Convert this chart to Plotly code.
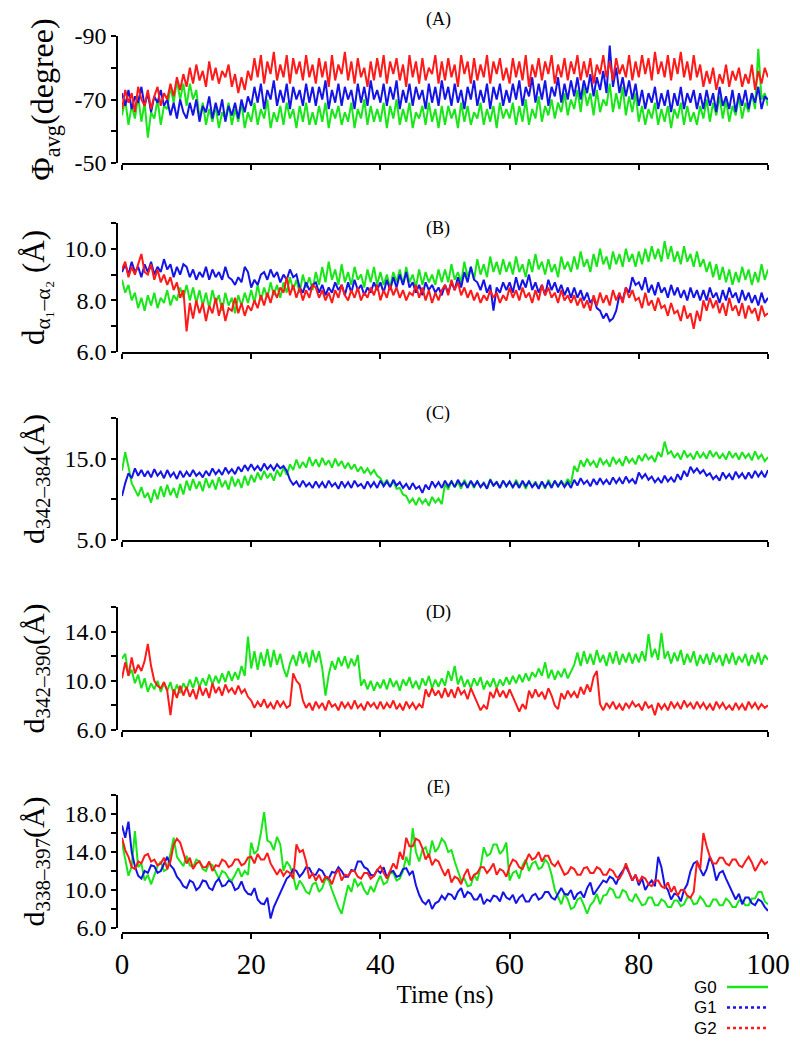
import plotly.graph_objects as go

# ---------------- data (time in ns, one reading every 0.5 ns) ----------------
time_ns = [i * 0.5 for i in range(201)]

# Panel A: phi_avg (degree)
A_G0 = [-65,-70,-62,-68,-64,-71,-63,-69,-58,-66, -64,-70,-62,-68,-67,-74,-69,-76,-70,-75,
        -68,-75,-70,-73,-64,-69,-62,-67,-63,-68, -61,-66,-64,-69,-62,-67,-63,-69,-61,-66,
        -63,-69,-62,-67,-64,-70,-61,-66,-63,-68, -62,-69,-64,-67,-61,-68,-63,-69,-62,-66,
        -62,-68,-63,-69,-61,-67,-64,-68,-62,-66, -63,-69,-61,-67,-64,-70,-62,-68,-63,-67,
        -63,-69,-61,-68,-64,-70,-62,-67,-63,-69, -61,-66,-64,-68,-62,-69,-63,-67,-61,-68,
        -62,-68,-64,-67,-61,-69,-63,-68,-62,-66, -64,-69,-62,-67,-63,-68,-61,-69,-64,-67,
        -64,-69,-62,-68,-63,-70,-62,-67,-64,-71, -63,-68,-65,-70,-64,-69,-66,-72,-65,-70,
        -67,-73,-66,-74,-68,-72,-65,-73,-66,-70, -68,-75,-66,-72,-67,-74,-65,-71,-66,-72,
        -63,-68,-62,-67,-64,-69,-62,-67,-63,-68, -61,-67,-64,-69,-62,-68,-63,-66,-62,-68,
        -64,-70,-63,-69,-65,-71,-64,-70,-63,-68, -65,-71,-64,-69,-66,-72,-67,-86,-70,-72,
        -68]
A_G1 = [-72,-68,-73,-67,-71,-69,-74,-68,-72,-66, -71,-69,-73,-68,-70,-65,-69,-64,-70,-66,
        -64,-69,-65,-70,-63,-68,-66,-71,-64,-69, -65,-70,-63,-68,-65,-69,-64,-70,-66,-71,
        -68,-74,-69,-75,-67,-73,-70,-76,-68,-73, -69,-75,-67,-74,-70,-73,-68,-75,-69,-74,
        -68,-74,-70,-76,-67,-73,-69,-75,-68,-74, -70,-73,-67,-75,-69,-74,-68,-76,-70,-73,
        -69,-75,-68,-74,-70,-76,-67,-73,-69,-75, -68,-74,-70,-73,-67,-75,-69,-74,-68,-76,
        -70,-74,-68,-75,-69,-73,-67,-74,-70,-76, -68,-73,-69,-75,-67,-74,-70,-75,-68,-73,
        -69,-75,-70,-76,-68,-74,-71,-77,-69,-75, -70,-76,-68,-74,-71,-77,-69,-75,-70,-76,
        -71,-77,-70,-76,-72,-78,-71,-77,-73,-79, -72,-87,-74,-80,-72,-77,-71,-76,-70,-75,
        -68,-73,-67,-72,-69,-74,-67,-72,-68,-73, -66,-72,-68,-74,-67,-72,-69,-73,-67,-72,
        -67,-73,-68,-72,-66,-74,-68,-71,-67,-73, -66,-72,-68,-73,-67,-72,-69,-74,-67,-71,
        -70]
A_G2 = [-67,-73,-69,-72,-66,-74,-70,-68,-73,-67, -71,-74,-68,-72,-70,-75,-71,-77,-73,-78,
        -74,-80,-75,-81,-76,-79,-74,-82,-76,-80, -75,-79,-77,-81,-74,-78,-72,-77,-73,-79,
        -76,-83,-77,-84,-75,-82,-78,-85,-76,-81, -77,-84,-75,-83,-78,-82,-76,-84,-77,-81,
        -75,-83,-77,-82,-74,-84,-76,-81,-78,-85, -76,-82,-75,-83,-77,-80,-74,-82,-76,-83,
        -77,-84,-75,-82,-78,-83,-76,-81,-74,-84, -77,-82,-75,-83,-76,-80,-78,-84,-75,-82,
        -76,-83,-77,-81,-74,-84,-78,-82,-75,-83, -76,-81,-77,-84,-75,-82,-78,-83,-76,-80,
        -75,-83,-77,-82,-76,-84,-74,-81,-77,-83, -76,-82,-78,-84,-75,-81,-77,-83,-76,-82,
        -78,-84,-76,-82,-77,-83,-75,-81,-78,-84, -77,-82,-76,-83,-78,-81,-77,-84,-76,-82,
        -77,-84,-78,-83,-76,-85,-78,-82,-77,-84, -76,-83,-78,-85,-77,-82,-76,-84,-77,-81,
        -74,-79,-75,-80,-73,-78,-75,-81,-74,-79, -76,-80,-74,-78,-75,-81,-73,-79,-75,-80,
        -77]

# Panel B: d(alpha1-alpha2) (Angstrom)
B_G0 = [8.8,8.3,8.6,8.0,8.3,7.7,8.1,7.6,8.2,7.8, 8.3,7.7,8.1,7.9,8.4,7.8,8.2,8.0,8.5,8.1,
        8.6,8.0,8.5,7.9,8.4,7.8,8.3,7.7,8.4,7.9, 8.2,7.6,8.3,7.8,8.1,7.5,8.2,7.8,8.3,7.9,
        8.4,7.9,8.6,8.0,8.5,8.1,8.7,8.2,8.6,8.1, 8.7,8.3,8.9,8.4,8.8,8.3,9.0,8.5,8.9,8.4,
        9.1,8.6,9.3,8.7,9.5,8.8,9.2,8.6,9.4,8.7, 9.1,8.6,9.3,8.8,9.0,8.5,9.2,8.7,9.3,8.6,
        9.1,8.6,9.0,8.5,9.1,8.7,9.2,8.6,9.3,8.7, 9.0,8.5,9.2,8.6,9.1,8.7,9.0,8.6,9.2,8.7,
        9.2,8.7,9.4,8.8,9.1,8.7,9.5,8.9,9.3,8.8, 9.6,9.0,9.4,8.9,9.7,9.1,9.5,9.0,9.6,9.1,
        9.5,9.0,9.7,9.1,9.4,8.9,9.6,9.1,9.8,9.2, 9.5,9.0,9.6,9.1,9.4,8.9,9.7,9.2,9.5,9.1,
        9.7,9.2,9.9,9.3,9.6,9.1,9.8,9.3,10.0,9.4, 9.7,9.2,9.9,9.4,9.8,9.3,10.0,9.5,9.8,9.3,
        9.9,9.4,10.0,9.5,10.1,9.6,10.0,9.5,10.3,9.6, 10.1,9.5,9.9,9.4,10.1,9.5,9.8,9.3,9.9,9.3,
        9.6,9.1,9.5,8.9,9.4,8.8,9.3,8.7,9.2,8.6, 9.1,8.7,9.3,8.8,9.2,8.6,9.1,8.7,9.4,8.8,
        9.2]
B_G1 = [9.1,9.4,9.0,9.5,9.1,9.3,8.9,9.4,9.1,9.5, 9.0,9.3,9.1,9.6,9.2,9.4,8.9,9.3,9.0,9.4,
        9.3,8.9,9.2,8.8,9.1,8.9,9.3,8.8,9.2,8.9, 9.1,8.8,9.3,8.9,8.8,8.6,8.9,8.7,9.3,9.1,
        8.5,8.8,8.6,9.0,9.1,8.8,9.2,8.9,9.1,8.7, 9.0,8.8,9.2,8.9,9.0,8.5,8.3,8.7,8.4,8.6,
        8.7,8.3,8.6,8.2,8.5,8.3,8.7,8.4,8.6,8.2, 8.7,8.3,8.8,8.4,8.6,8.2,8.5,8.3,8.7,8.4,
        8.7,8.3,8.8,8.4,8.9,8.5,9.0,8.6,9.1,8.5, 8.7,8.3,8.6,8.2,8.7,8.4,8.6,8.3,8.5,8.2,
        8.6,8.3,8.7,8.4,8.9,8.5,9.1,8.7,9.3,8.8, 8.7,8.4,8.8,8.3,8.6,7.6,8.5,8.3,8.7,8.4,
        8.7,8.3,8.9,8.4,8.8,8.5,9.0,8.4,8.7,8.3, 8.6,8.2,8.8,8.4,8.7,8.3,8.6,8.2,8.5,8.1,
        8.5,8.1,8.4,8.0,8.3,7.9,8.1,7.7,7.6,7.3, 7.5,7.2,7.3,7.6,8.2,8.0,8.5,8.3,8.9,8.6,
        8.7,8.4,8.9,8.3,8.6,8.2,8.7,8.3,8.5,8.1, 8.6,8.2,8.5,8.1,8.4,8.0,8.5,8.1,8.4,8.0,
        8.4,8.0,8.5,8.1,8.3,7.9,8.4,8.0,8.5,8.1, 8.3,7.9,8.4,8.0,8.3,7.9,8.2,7.8,8.3,7.9,
        8.1]
B_G2 = [9.2,9.5,8.9,9.3,9.0,9.4,9.8,9.1,9.0,9.4, 8.8,9.2,8.7,9.0,8.6,8.9,8.4,8.7,8.1,8.4,
        6.8,7.9,7.3,8.0,7.5,7.9,7.2,7.8,7.5,8.1, 7.4,7.9,7.2,7.7,7.6,8.1,7.5,7.9,7.4,7.8,
        7.6,8.0,7.7,8.2,7.8,8.3,7.9,8.4,8.1,8.5, 8.3,8.9,8.2,8.6,8.1,8.5,8.0,8.4,8.1,8.6,
        8.5,8.1,8.4,8.0,8.3,7.9,8.4,8.1,8.6,8.2, 8.0,8.4,8.1,8.5,8.0,8.3,8.1,8.5,8.2,8.6,
        8.0,8.4,8.1,8.6,8.2,8.5,8.1,8.4,8.0,8.3, 8.2,8.6,8.1,8.5,8.0,8.4,7.9,8.3,8.0,8.4,
        8.6,8.2,8.8,8.4,8.7,8.2,8.5,8.1,8.4,8.0, 8.3,7.9,8.2,8.0,8.4,8.1,8.3,7.9,8.2,8.0,
        8.5,8.1,8.4,8.0,8.5,8.1,8.3,7.9,8.4,8.0, 8.6,8.2,8.5,8.1,8.3,7.9,8.4,8.0,8.2,7.9,
        8.2,7.8,8.1,7.7,8.0,7.6,8.2,7.8,8.3,7.9, 8.2,7.8,8.4,8.0,8.3,7.9,8.5,8.1,8.4,8.0,
        8.1,7.7,8.3,7.8,8.0,7.6,8.1,7.7,7.8,7.4, 7.9,7.5,7.6,7.2,7.8,7.3,7.5,6.9,7.6,7.2,
        8.0,7.6,8.1,7.7,8.0,7.5,7.9,7.4,8.1,7.6, 7.8,7.4,7.9,7.3,7.8,7.5,7.7,7.2,7.8,7.4,
        7.5]

# Panel C: d(342-384) (Angstrom)
C_G0 = [13.5,15.8,14.0,12.0,11.2,10.4,11.5,10.2,10.8,9.6, 11.2,10.0,11.6,10.3,11.8,10.5,11.4,10.2,11.9,10.6,
        12.3,11.1,12.5,11.3,12.2,11.0,12.6,11.4,12.4,11.2, 12.7,11.5,12.3,11.2,12.8,11.6,12.5,11.4,12.9,11.7,
        13.0,12.1,13.3,12.4,13.5,12.6,13.2,12.3,13.6,12.8, 13.9,13.0,14.3,13.6,14.9,13.8,14.6,13.9,15.2,14.1,
        14.9,14.0,15.1,14.2,14.8,13.9,15.0,14.1,14.7,13.8, 14.5,13.7,14.3,13.4,14.0,13.2,13.8,13.1,13.6,12.9,
        12.6,11.8,12.4,11.6,12.2,11.3,11.4,10.6,10.4,9.6, 10.1,9.3,10.2,9.5,10.0,9.2,10.3,9.6,10.1,9.4,
        11.9,11.2,12.3,11.5,12.1,11.3,12.4,11.6,12.2,11.4, 12.3,11.5,12.1,11.3,12.5,11.6,12.2,11.4,12.3,11.6,
        12.2,11.4,12.4,11.6,12.1,11.3,12.3,11.5,12.2,11.4, 12.1,11.3,12.4,11.6,12.2,11.5,12.3,11.7,12.5,11.9,
        14.1,13.4,14.8,14.0,15.0,14.2,14.7,13.9,15.1,14.3, 14.8,14.0,15.2,14.4,14.9,14.1,15.3,14.5,15.0,14.3,
        15.4,14.7,15.6,14.9,15.3,14.6,15.8,15.2,17.1,15.6, 15.9,15.1,15.7,14.9,16.0,15.2,15.6,14.9,15.9,15.1,
        15.7,15.0,16.0,15.2,15.8,15.0,15.6,14.9,15.9,15.1, 15.7,14.9,15.8,15.1,15.6,14.8,15.9,15.0,15.5,14.7,
        15.2]
C_G1 = [10.4,12.0,13.2,12.6,13.8,12.9,13.6,12.8,13.5,12.7, 13.7,12.9,13.4,12.6,13.6,12.8,13.3,12.5,13.5,12.7,
        13.4,12.8,13.6,12.9,13.3,12.7,13.5,12.9,13.8,13.1, 13.6,13.0,13.9,13.2,13.7,13.1,14.0,13.4,14.2,13.6,
        14.3,13.6,14.1,13.5,14.4,13.7,14.2,13.6,14.3,13.8, 14.1,13.5,12.4,11.8,12.2,11.5,12.3,11.6,12.0,11.4,
        12.2,11.5,12.1,11.4,12.3,11.6,12.0,11.3,12.2,11.5, 12.1,11.4,12.3,11.6,11.9,11.3,12.2,11.5,12.1,11.4,
        12.3,11.6,12.2,11.5,12.4,11.7,12.1,11.4,11.9,11.2, 12.0,11.3,11.6,10.8,11.8,11.2,12.2,11.5,12.1,11.4,
        12.3,11.6,12.2,11.5,12.4,11.7,12.1,11.4,12.3,11.6, 12.2,11.5,12.0,11.3,12.4,11.7,12.1,11.4,12.3,11.6,
        12.2,11.5,12.1,11.4,12.3,11.6,12.2,11.5,12.0,11.3, 12.2,11.5,12.1,11.4,12.3,11.6,12.2,11.5,12.1,11.4,
        12.4,11.7,12.6,11.9,12.3,11.6,12.5,11.8,12.6,11.9, 12.4,11.8,12.7,12.0,12.6,11.9,12.8,12.1,12.5,11.9,
        13.3,12.6,13.1,12.4,12.8,12.1,12.6,12.0,12.9,12.2, 12.7,12.1,13.1,12.4,13.5,12.8,14.0,13.3,13.8,13.2,
        13.6,12.9,13.2,12.5,12.9,12.3,13.3,12.6,13.1,12.4, 13.4,12.7,13.2,12.5,13.3,12.6,13.5,12.8,13.4,12.7,
        13.6]

# Panel D: d(342-390) (Angstrom)
D_G0 = [11.8,12.2,10.4,10.9,9.8,10.5,9.4,10.2,9.1,9.8, 9.3,10.0,9.1,9.8,9.2,9.9,8.9,9.7,9.0,9.8,
        9.3,10.1,9.4,10.3,9.5,10.2,9.6,10.5,9.7,10.4, 9.8,10.6,9.9,10.8,10.0,10.7,10.1,11.2,10.4,13.6,
        11.0,12.4,10.9,12.3,11.2,12.6,11.1,12.5,11.3,12.2, 11.0,10.3,11.4,12.1,11.2,12.4,11.4,12.3,11.1,12.5,
        11.5,12.4,11.0,8.8,10.5,11.6,10.9,11.9,11.2,12.0, 11.0,11.8,11.2,12.1,9.6,10.1,9.3,10.0,9.2,9.9,
        9.4,10.1,9.3,10.2,9.5,10.0,9.2,10.1,9.6,10.3, 9.4,10.0,9.3,10.2,9.6,10.4,9.4,10.1,9.5,10.2,
        9.6,10.8,10.0,11.2,9.7,10.4,9.5,10.1,9.4,10.2, 9.6,10.3,9.3,10.0,9.5,10.2,9.4,10.1,9.6,10.3,
        9.7,10.4,9.8,10.5,9.9,10.6,10.0,10.7,10.3,11.0, 10.4,11.5,10.2,10.9,10.1,10.8,10.3,11.0,10.2,10.8,
        11.3,12.3,11.2,12.4,11.4,12.2,11.3,12.5,11.5,12.1, 11.2,12.3,11.4,12.4,11.3,12.2,11.5,12.3,11.4,12.2,
        11.5,12.4,11.6,13.8,11.9,12.6,11.7,13.9,11.8,12.4, 11.4,12.3,11.6,12.5,11.3,12.2,11.5,12.4,11.2,12.1,
        11.4,12.2,11.3,12.3,11.5,12.1,11.2,12.2,11.4,12.3, 11.3,12.0,11.5,12.2,11.2,12.1,11.4,12.3,11.3,12.1,
        11.7]
D_G2 = [10.2,11.5,10.4,11.9,10.6,11.3,10.8,11.6,13.0,11.2, 10.0,9.6,9.4,9.9,9.2,7.2,9.3,8.6,9.6,8.8,
        9.5,8.7,9.3,8.5,9.6,8.8,9.4,8.6,9.8,9.0, 9.5,8.8,9.7,9.1,9.4,8.9,9.6,9.0,9.3,8.7,
        8.4,7.8,8.3,7.9,8.5,7.8,8.2,7.7,8.4,7.9, 8.3,7.8,8.0,10.6,10.0,9.7,8.4,7.8,8.2,7.6,
        8.3,7.8,8.2,7.6,8.4,7.9,8.1,7.6,8.3,7.8, 8.2,7.7,8.4,7.8,8.1,7.6,8.3,7.9,8.2,7.7,
        8.3,7.7,8.2,7.8,8.4,7.7,8.1,7.6,8.3,7.8, 8.2,7.7,8.1,7.8,9.3,8.7,9.4,8.8,9.2,8.6,
        9.4,8.7,9.3,8.6,9.5,8.9,9.2,8.5,9.4,8.8, 8.1,7.6,8.0,7.7,9.1,8.6,9.4,8.7,9.2,8.6,
        9.3,8.7,8.0,7.5,8.1,7.7,9.2,8.6,9.3,8.7, 9.1,8.5,9.4,8.8,8.0,7.7,9.0,8.5,9.2,8.7,
        9.1,8.6,9.5,8.9,9.7,9.1,10.3,10.8,8.1,7.6, 8.2,7.8,8.3,7.7,8.1,7.6,8.2,7.8,8.3,7.9,
        8.1,7.6,8.3,7.8,8.0,7.2,8.2,7.7,8.1,7.6, 8.3,7.8,8.2,7.7,8.4,7.9,8.2,7.7,8.3,7.8,
        8.2,7.7,8.1,7.6,8.3,7.8,8.2,7.7,8.0,7.6, 8.2,7.7,8.1,7.6,8.3,7.8,8.2,7.7,8.1,7.8,
        8.0]

# Panel E: d(338-397) (Angstrom)
E_G0 = [15.0,13.2,11.5,12.5,16.2,12.4,12.8,11.0,11.6,10.6, 11.5,12.5,13.0,12.0,12.2,14.0,15.5,13.5,13.0,12.5,
        13.6,12.6,12.4,13.2,13.0,12.2,12.0,12.8,12.6,11.8, 11.2,12.0,11.8,11.2,11.0,11.6,12.3,11.4,12.0,11.6,
        15.0,13.8,14.2,16.0,18.2,15.2,15.0,14.2,15.6,14.8, 12.0,13.0,12.5,11.5,10.0,11.0,10.5,9.8,9.6,10.6,
        10.8,9.8,10.2,11.2,11.0,10.0,9.0,8.2,7.5,9.2, 10.5,9.8,11.2,10.4,10.8,10.0,9.5,10.4,9.8,10.8,
        11.5,10.6,10.8,11.8,11.8,11.0,11.2,12.0,13.5,12.6, 16.5,14.0,13.0,14.2,14.5,13.4,15.2,14.0,14.5,15.4,
        15.0,14.0,14.2,13.0,12.0,11.0,11.2,10.4,10.5,11.6, 11.0,12.4,14.5,13.6,13.8,14.8,14.8,13.8,14.2,15.0,
        11.0,11.8,12.0,11.2,12.6,13.2,12.0,12.8,13.0,12.2, 12.4,13.2,12.8,11.6,10.0,9.2,8.5,9.6,9.0,8.0,
        8.2,9.0,9.2,8.4,7.5,8.4,8.8,9.6,8.5,9.4, 9.5,10.2,10.0,9.2,9.2,10.0,9.8,9.0,8.8,9.6,
        9.0,8.4,8.5,9.2,9.2,8.4,8.4,9.0,8.8,8.2, 8.2,8.9,8.9,8.3,8.5,9.2,9.2,8.5,8.6,9.3,
        8.9,8.3,8.3,9.0,9.0,8.4,8.4,9.1,8.8,8.2, 8.2,8.9,8.9,8.4,8.4,9.1,9.1,9.8,9.8,8.8,
        8.5]
E_G1 = [16.8,15.5,17.2,14.0,12.5,11.5,11.2,12.0,11.8,12.6, 12.5,11.8,12.0,12.8,13.5,12.6,12.2,11.4,11.0,10.4,
        10.2,11.0,10.8,10.0,10.3,11.0,10.9,10.2,10.0,10.8, 11.2,10.4,10.5,11.0,10.8,10.0,10.2,10.9,10.0,9.6,
        9.5,10.2,9.0,8.6,8.5,9.2,7.0,8.2,9.0,9.8, 10.5,11.2,11.5,12.2,12.0,11.4,11.8,12.4,12.3,11.6,
        11.6,12.2,12.0,11.4,11.2,11.9,11.8,12.4,12.0,11.4, 11.4,12.1,12.0,13.0,13.0,12.4,12.2,11.6,11.5,12.1,
        11.8,12.4,11.3,11.9,12.0,11.4,11.5,12.2,12.3,11.6, 12.0,10.5,9.5,8.8,8.5,9.0,8.0,8.6,8.8,9.4,
        9.0,9.6,9.5,9.0,9.8,10.2,9.2,9.8,9.6,9.0, 9.0,9.6,8.5,9.0,8.8,9.4,9.3,8.8,9.8,9.2,
        9.0,9.5,8.6,9.2,9.5,8.8,8.8,9.4,9.6,9.0, 9.2,9.8,9.8,9.2,9.0,9.6,10.2,9.6,9.5,10.0,
        9.0,9.6,9.8,9.2,10.2,10.8,9.5,10.0,10.5,11.0, 10.8,11.4,11.2,10.6,11.5,12.0,12.5,11.8,11.0,11.6,
        10.5,11.2,10.0,10.6,11.0,10.4,13.5,12.4,10.5,10.0, 9.0,9.6,9.5,8.8,10.0,10.6,12.0,12.8,13.0,12.2,
        11.5,12.2,13.5,12.6,11.0,11.8,12.0,11.2,10.5,9.8, 9.0,9.6,8.5,9.2,9.2,8.6,8.4,9.0,8.8,8.2,
        7.8]
E_G2 = [15.5,14.2,13.5,12.4,12.2,13.0,12.8,13.6,13.8,13.0, 13.2,12.6,12.8,13.4,12.2,13.0,14.8,15.4,15.0,14.0,
        12.8,13.4,12.2,12.8,13.0,12.4,12.4,13.0,12.0,12.6, 12.5,13.2,13.0,12.4,12.6,13.2,13.2,12.6,12.8,13.4,
        13.5,12.8,13.8,13.2,13.2,13.9,12.8,12.2,11.6,12.2, 11.5,12.0,11.8,11.2,14.8,14.0,14.2,13.0,11.2,11.8,
        11.0,11.6,10.8,11.4,11.3,10.6,11.6,12.2,11.0,11.6, 11.5,12.0,12.0,11.4,11.2,11.8,11.8,11.2,11.5,12.1,
        12.5,11.8,11.2,12.0,12.8,12.2,14.0,13.2,15.5,14.6, 14.6,15.4,15.2,14.4,13.2,13.8,12.6,13.2,13.0,12.2,
        11.5,12.2,10.8,11.4,11.2,10.6,11.6,12.2,11.0,11.6, 11.8,12.4,12.4,11.8,12.2,12.8,11.6,12.2,12.0,11.4,
        12.5,13.2,13.0,12.4,12.2,13.0,13.8,13.2,13.4,14.0, 13.0,13.6,13.6,12.8,12.5,13.0,12.2,11.6,11.8,12.4,
        12.2,11.6,11.6,12.3,12.4,11.8,11.8,12.4,12.2,11.6, 11.6,12.2,12.0,11.4,11.2,11.8,12.8,12.0,11.0,11.6,
        10.8,11.4,11.2,10.6,10.4,11.0,11.0,10.4,10.2,10.8, 9.8,10.4,9.4,10.0,10.0,9.4,9.2,9.8,13.0,12.2,
        16.0,14.6,13.5,12.8,12.8,13.4,13.4,12.8,12.6,13.2, 13.2,12.6,12.4,13.0,13.5,12.9,12.0,12.6,13.2,12.7,
        13.0]

series_names = ["G0", "G1", "G2"]
x_ticks = [0, 20, 40, 60, 80, 100]
x_ticktext = ["0", "20", "40", "60", "80", "100"]
panel_labels = ["(A)", "(B)", "(C)", "(D)", "(E)"]

# ---------------- styling ----------------
COLORS = {"G0": "#19e619", "G1": "#1414e6", "G2": "#ff1a1a"}
DASH = {"G0": "solid", "G1": "dot", "G2": "dot"}
SERIF = "Liberation Serif, Times New Roman, serif"
SANS = "Liberation Sans, Arial, sans-serif"
FW, FH = 792.0, 1036.0   # figure size (page body adds 8 px margin)
OFF = 8.0

def px_x(px):
    return (px - OFF) / FW

def px_y(py):
    return 1 - (py - OFF) / FH

panels = [
    dict(data={"G0": A_G0, "G1": A_G1, "G2": A_G2}, rng=[-50, -90],
         tv=[-90, -70, -50], tt=["-90", "-70", "-50"], minor=10,
         title="\u03a6<sub>avg</sub>(degree)", tsize=32, top=36, bot=163, lab_y=19),
    dict(data={"G0": B_G0, "G1": B_G1, "G2": B_G2}, rng=[6, 11],
         tv=[6, 8, 10], tt=["6.0", "8.0", "10.0"], minor=1,
         title="d<sub>\u03b1\u2081\u2013\u03b1\u2082</sub> (\u00c5)", tsize=31, top=223, bot=352, lab_y=228),
    dict(data={"G0": C_G0, "G1": C_G1}, rng=[5, 20],
         tv=[5, 15], tt=["5.0", "15.0"], minor=5,
         title="d<sub>342\u2013384</sub>(\u00c5)", tsize=30, top=418, bot=540, lab_y=413),
    dict(data={"G0": D_G0, "G2": D_G2}, rng=[6, 16],
         tv=[6, 10, 14], tt=["6.0", "10.0", "14.0"], minor=2,
         title="d<sub>342\u2013390</sub>(\u00c5)", tsize=30, top=607, bot=730, lab_y=612),
    dict(data={"G0": E_G0, "G1": E_G1, "G2": E_G2}, rng=[6, 20],
         tv=[6, 10, 14, 18], tt=["6.0", "10.0", "14.0", "18.0"], minor=2,
         title="d<sub>338\u2013397</sub>(\u00c5)", tsize=30, top=795, bot=928, lab_y=787),
]

fig = go.Figure()
layout = {}
annotations = []
shapes = []
x_dom = [px_x(122), px_x(768)]
y_axis_x = px_x(117)

for i, p in enumerate(panels):
    n = i + 1
    xa = "x" if n == 1 else f"x{n}"
    ya = "y" if n == 1 else f"y{n}"
    for name in series_names:
        if name in p["data"]:
            fig.add_trace(go.Scatter(
                x=time_ns, y=p["data"][name], mode="lines", name=name,
                line=dict(color=COLORS[name], width=2.0),
                xaxis=xa, yaxis=ya, showlegend=False))
    last = (n == 5)
    xkey = "xaxis" if n == 1 else f"xaxis{n}"
    ykey = "yaxis" if n == 1 else f"yaxis{n}"
    xcfg = dict(domain=x_dom, range=[0, 100], tickvals=x_ticks, ticktext=x_ticktext,
                showticklabels=last,
                showline=True, linecolor="black", linewidth=1.6,
                ticks="outside", ticklen=5, tickwidth=1.6, tickcolor="black",
                showgrid=False, zeroline=False, automargin=False,
                tickfont=dict(family=SERIF, size=29, color="black"))
    if last:
        xcfg.update(anchor="free", position=px_y(933),
                    title=dict(text="Time (ns)", standoff=6,
                               font=dict(family=SERIF, size=25, color="black")))
    else:
        xcfg.update(anchor=ya)
    layout[xkey] = xcfg
    layout[ykey] = dict(domain=[px_y(p["bot"]), px_y(p["top"])], range=p["rng"],
                        tickvals=p["tv"], ticktext=p["tt"],
                        minor=dict(dtick=p["minor"], tick0=p["tv"][0], ticks="outside",
                                   ticklen=5, tickwidth=1.6, tickcolor="black",
                                   showgrid=False),
                        anchor="free", position=y_axis_x,
                        showline=True, linecolor="black", linewidth=1.6,
                        ticks="outside", ticklen=5, tickwidth=1.6, tickcolor="black",
                        showgrid=False, zeroline=False, automargin=False,
                        tickfont=dict(family=SERIF, size=24, color="black"),
                        title=dict(text=p["title"], standoff=10,
                                   font=dict(family=SERIF, size=p["tsize"], color="black")))
    annotations.append(dict(text=panel_labels[i], xref="paper", yref="paper",
                            x=px_x(438), y=px_y(p["lab_y"]), showarrow=False,
                            xanchor="center", yanchor="middle",
                            font=dict(family=SERIF, size=18, color="black")))

# key: label text with a line sample to its right
for k, name in enumerate(series_names):
    yk = 987 + 20.5 * k
    annotations.append(dict(text=name, xref="paper", yref="paper",
                            x=px_x(719), y=px_y(yk), showarrow=False,
                            xanchor="right", yanchor="middle",
                            font=dict(family=SANS, size=17, color="black")))
    shapes.append(dict(type="line", xref="paper", yref="paper",
                       x0=px_x(727), x1=px_x(768), y0=px_y(yk), y1=px_y(yk),
                       line=dict(color=COLORS[name], width=2.4, dash=DASH[name])))

fig.update_layout(
    width=int(FW), height=int(FH),
    margin=dict(l=0, r=0, t=0, b=0),
    paper_bgcolor="white", plot_bgcolor="white",
    annotations=annotations, shapes=shapes,
    showlegend=False,
    **layout,
)

fig.write_html("out.html")
